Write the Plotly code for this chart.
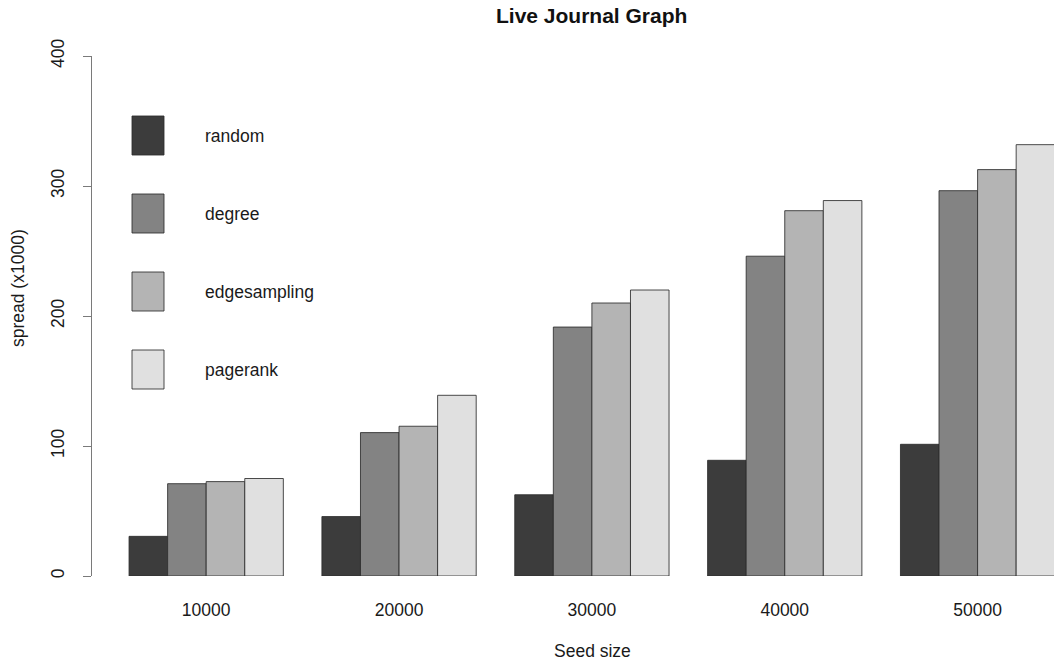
import plotly.graph_objects as go

seed_sizes = ["10000", "20000", "30000", "40000", "50000"]
series_names = ["random", "degree", "edgesampling", "pagerank"]
random_vals = [30.5, 45.7, 62.5, 89, 101.3]
degree_vals = [71, 110.3, 191.5, 246, 296.4]
edgesampling_vals = [72.6, 115.2, 210, 281, 312.6]
pagerank_vals = [75, 139, 220, 288.8, 331.8]
y_ticks = [0, 100, 200, 300, 400]

colors = ["#3c3c3c", "#838383", "#b4b4b4", "#e0e0e0"]
all_vals = [random_vals, degree_vals, edgesampling_vals, pagerank_vals]

W, H = 1054, 666
L, R, T, B = 92, 0, 56, 90
pw, ph = W - L - R, H - T - B

fig = go.Figure()
for name, vals, col in zip(series_names, all_vals, colors):
    fig.add_trace(go.Bar(
        x=seed_sizes, y=vals, name=name,
        marker=dict(color=col, line=dict(color="rgba(45,45,45,0.85)", width=1)),
        showlegend=False,
    ))

def px2paper_x(px):
    return (px - L) / pw

def px2paper_y(py):
    return (H - B - py) / ph

shapes = []
annotations = []
box_tops = [116, 194, 272, 350]
for name, col, top in zip(series_names, colors, box_tops):
    shapes.append(dict(
        type="rect", xref="paper", yref="paper",
        x0=px2paper_x(132), x1=px2paper_x(164),
        y0=px2paper_y(top + 39), y1=px2paper_y(top),
        fillcolor=col, line=dict(color="rgba(45,45,45,0.85)", width=1),
    ))
    annotations.append(dict(
        text=name, xref="paper", yref="paper",
        x=px2paper_x(203), y=px2paper_y(top + 19.5),
        xanchor="left", yanchor="middle", showarrow=False,
        font=dict(size=17.5, color="#1a1a1a"),
    ))

annotations.append(dict(
    text="<b>Live Journal Graph</b>", xref="paper", yref="paper",
    x=px2paper_x(591.5), y=px2paper_y(15), xanchor="center", yanchor="middle",
    showarrow=False, font=dict(size=21, color="#111"),
))
annotations.append(dict(
    text="Seed size", xref="paper", yref="paper",
    x=px2paper_x(592), y=px2paper_y(651), xanchor="center", yanchor="middle",
    showarrow=False, font=dict(size=17.5, color="#1a1a1a"),
))
annotations.append(dict(
    text="spread (x1000)", xref="paper", yref="paper",
    x=px2paper_x(18), y=px2paper_y(288), xanchor="center", yanchor="middle",
    textangle=-90, showarrow=False, font=dict(size=17.5, color="#1a1a1a"),
))

unit = 192.85
x0 = -(206.2 - L) / unit
x1 = 4 + (W - (206.2 + 4 * unit)) / unit

fig.update_layout(
    width=W, height=H,
    margin=dict(l=L, r=R, t=T, b=B, pad=0),
    paper_bgcolor="white", plot_bgcolor="white",
    barmode="group", bargap=0.2, bargroupgap=0,
    font=dict(family="Liberation Sans, Arial, Helvetica, sans-serif", size=17.5, color="#1a1a1a"),
    xaxis=dict(
        type="category", range=[x0, x1], showline=False, showgrid=False,
        zeroline=False, ticks="outside", ticklen=0, tickcolor="rgba(0,0,0,0)",
        ticklabelstandoff=18, tickfont=dict(size=17.5),
    ),
    yaxis=dict(
        range=[0, 400], tickvals=y_ticks, showline=True, linecolor="#7a7a7a",
        linewidth=1, ticks="outside", ticklen=8, tickcolor="#7a7a7a",
        showgrid=False, zeroline=False, tickangle=-90, ticklabelstandoff=12,
        tickfont=dict(size=17.5),
    ),
    shapes=shapes, annotations=annotations,
)

fig.write_html("out.html")
